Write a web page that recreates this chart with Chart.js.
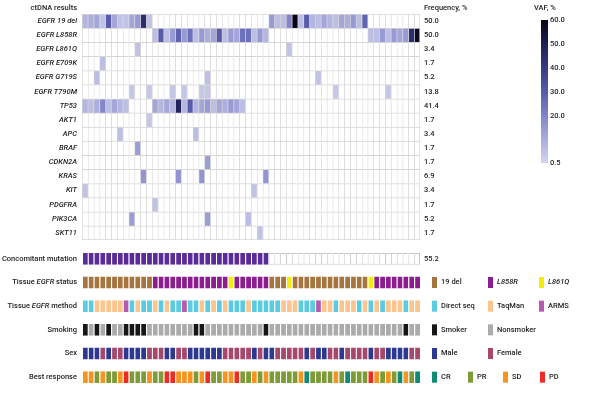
<!DOCTYPE html>
<html>
<head>
<meta charset="utf-8">
<script src="https://cdn.jsdelivr.net/npm/chart.js@4.4.1/dist/chart.umd.min.js"></script>
<style>
  body { margin: 0; background: #fff; }
  #wrap { position: relative; width: 600px; height: 393px; overflow: hidden; }
  canvas { position: absolute; left: 0; }
</style>
</head>
<body>
<div id="wrap">
  <canvas id="ctdna" width="600" height="243" style="top:0"></canvas>
  <canvas id="clin" width="600" height="150" style="top:243px"></canvas>
</div>
<script>
// 58 patients, one column each
const patients = Array.from({ length: 58 }, (_, i) => 'P' + (i + 1));

const genes = ['EGFR 19 del', 'EGFR L858R', 'EGFR L861Q', 'EGFR E709K', 'EGFR G719S', 'EGFR T790M',
  'TP53', 'AKT1', 'APC', 'BRAF', 'CDKN2A', 'KRAS', 'KIT', 'PDGFRA', 'PIK3CA', 'SKT11'];
const frequency = ['50.0', '50.0', '3.4', '1.7', '5.2', '13.8', '41.4', '1.7', '3.4', '1.7', '1.7', '6.9', '3.4', '1.7', '5.2', '1.7'];

// ctDNA VAF (%) per patient, 0 = not detected
const egfr19del = [
  8, 10, 12, 5, 30, 12, 5, 5, 12, 15,
  45, 5, 0, 0, 0, 0, 0, 0, 0, 0,
  0, 0, 0, 0, 0, 0, 0, 0, 0, 0,
  0, 0, 15, 6, 6, 20, 60, 6, 30, 8,
  6, 12, 8, 6, 12, 10, 15, 6, 28, 0,
  0, 0, 0, 0, 0, 0, 0, 0];
const egfrL858R = [
  0, 0, 0, 0, 0, 0, 0, 0, 0, 0,
  0, 0, 6, 30, 6, 15, 28, 15, 25, 6,
  15, 10, 12, 30, 6, 15, 12, 25, 25, 6,
  15, 8, 0, 0, 0, 0, 0, 0, 0, 0,
  0, 0, 0, 0, 0, 0, 0, 0, 0, 6,
  6, 15, 6, 15, 12, 15, 45, 58];
const egfrL861Q = [
  0, 0, 0, 0, 0, 0, 0, 0, 0, 5,
  0, 0, 0, 0, 0, 0, 0, 0, 0, 0,
  0, 0, 0, 0, 0, 0, 0, 0, 0, 0,
  0, 0, 0, 0, 0, 5, 0, 0, 0, 0,
  0, 0, 0, 0, 0, 0, 0, 0, 0, 0,
  0, 0, 0, 0, 0, 0, 0, 0];
const egfrE709K = [
  0, 0, 0, 6, 0, 0, 0, 0, 0, 0,
  0, 0, 0, 0, 0, 0, 0, 0, 0, 0,
  0, 0, 0, 0, 0, 0, 0, 0, 0, 0,
  0, 0, 0, 0, 0, 0, 0, 0, 0, 0,
  0, 0, 0, 0, 0, 0, 0, 0, 0, 0,
  0, 0, 0, 0, 0, 0, 0, 0];
const egfrG719S = [
  0, 0, 6, 0, 0, 0, 0, 0, 0, 0,
  0, 0, 0, 0, 0, 0, 0, 0, 0, 0,
  0, 6, 0, 0, 0, 0, 0, 0, 0, 0,
  0, 0, 0, 0, 0, 0, 0, 0, 0, 0,
  5, 0, 0, 0, 0, 0, 0, 0, 0, 0,
  0, 0, 0, 0, 0, 0, 0, 0];
const egfrT790M = [
  0, 0, 0, 0, 0, 0, 0, 0, 4, 0,
  0, 4, 0, 0, 0, 4, 0, 4, 0, 0,
  4, 4, 0, 0, 0, 0, 0, 0, 0, 0,
  0, 0, 0, 0, 0, 0, 0, 0, 0, 0,
  0, 0, 0, 4, 0, 0, 0, 0, 0, 0,
  0, 0, 4, 0, 0, 0, 0, 0];
const tp53 = [
  8, 6, 10, 20, 6, 12, 8, 6, 0, 0,
  0, 0, 12, 8, 12, 8, 48, 8, 30, 8,
  12, 15, 6, 12, 10, 15, 12, 6, 0, 0,
  0, 0, 0, 0, 0, 0, 0, 0, 0, 0,
  0, 0, 0, 0, 0, 0, 0, 0, 0, 0,
  0, 0, 0, 0, 0, 0, 0, 0];
const akt1 = [
  0, 0, 0, 0, 0, 0, 0, 0, 0, 0,
  0, 4, 0, 0, 0, 0, 0, 0, 0, 0,
  0, 0, 0, 0, 0, 0, 0, 0, 0, 0,
  0, 0, 0, 0, 0, 0, 0, 0, 0, 0,
  0, 0, 0, 0, 0, 0, 0, 0, 0, 0,
  0, 0, 0, 0, 0, 0, 0, 0];
const apc = [
  0, 0, 0, 0, 0, 0, 6, 0, 0, 0,
  0, 0, 0, 0, 0, 0, 0, 0, 0, 6,
  0, 0, 0, 0, 0, 0, 0, 0, 0, 0,
  0, 0, 0, 0, 0, 0, 0, 0, 0, 0,
  0, 0, 0, 0, 0, 0, 0, 0, 0, 0,
  0, 0, 0, 0, 0, 0, 0, 0];
const braf = [
  0, 0, 0, 0, 0, 0, 0, 0, 0, 14,
  0, 0, 0, 0, 0, 0, 0, 0, 0, 0,
  0, 0, 0, 0, 0, 0, 0, 0, 0, 0,
  0, 0, 0, 0, 0, 0, 0, 0, 0, 0,
  0, 0, 0, 0, 0, 0, 0, 0, 0, 0,
  0, 0, 0, 0, 0, 0, 0, 0];
const cdkn2a = [
  0, 0, 0, 0, 0, 0, 0, 0, 0, 0,
  0, 0, 0, 0, 0, 0, 0, 0, 0, 0,
  0, 14, 0, 0, 0, 0, 0, 0, 0, 0,
  0, 0, 0, 0, 0, 0, 0, 0, 0, 0,
  0, 0, 0, 0, 0, 0, 0, 0, 0, 0,
  0, 0, 0, 0, 0, 0, 0, 0];
const kras = [
  0, 0, 0, 0, 0, 0, 0, 0, 0, 0,
  16, 0, 0, 0, 0, 0, 16, 0, 0, 0,
  16, 0, 0, 0, 0, 0, 0, 0, 0, 0,
  0, 16, 0, 0, 0, 0, 0, 0, 0, 0,
  0, 0, 0, 0, 0, 0, 0, 0, 0, 0,
  0, 0, 0, 0, 0, 0, 0, 0];
const kit = [
  5, 0, 0, 0, 0, 0, 0, 0, 0, 0,
  0, 0, 0, 0, 0, 0, 0, 0, 0, 0,
  0, 0, 0, 0, 0, 0, 0, 0, 0, 5,
  0, 0, 0, 0, 0, 0, 0, 0, 0, 0,
  0, 0, 0, 0, 0, 0, 0, 0, 0, 0,
  0, 0, 0, 0, 0, 0, 0, 0];
const pdgfra = [
  0, 0, 0, 0, 0, 0, 0, 0, 0, 0,
  0, 0, 5, 0, 0, 0, 0, 0, 0, 0,
  0, 0, 0, 0, 0, 0, 0, 0, 0, 0,
  0, 0, 0, 0, 0, 0, 0, 0, 0, 0,
  0, 0, 0, 0, 0, 0, 0, 0, 0, 0,
  0, 0, 0, 0, 0, 0, 0, 0];
const pik3ca = [
  0, 0, 0, 0, 0, 0, 0, 0, 14, 0,
  0, 0, 0, 0, 0, 0, 0, 0, 0, 0,
  0, 14, 0, 0, 0, 0, 0, 0, 6, 0,
  0, 0, 0, 0, 0, 0, 0, 0, 0, 0,
  0, 0, 0, 0, 0, 0, 0, 0, 0, 0,
  0, 0, 0, 0, 0, 0, 0, 0];
const skt11 = [
  0, 0, 0, 0, 0, 0, 0, 0, 0, 0,
  0, 0, 0, 0, 0, 0, 0, 0, 0, 0,
  0, 0, 0, 0, 0, 0, 0, 0, 0, 0,
  5, 0, 0, 0, 0, 0, 0, 0, 0, 0,
  0, 0, 0, 0, 0, 0, 0, 0, 0, 0,
  0, 0, 0, 0, 0, 0, 0, 0];

const vafRows = [egfr19del, egfrL858R, egfrL861Q, egfrE709K, egfrG719S, egfrT790M,
  tp53, akt1, apc, braf, cdkn2a, kras, kit, pdgfra, pik3ca, skt11];

// clinical tracks, one letter per patient
const concomitant  = 'YYYYYYYYYYYYYYYYYYYYYYYYYYYYYYYYNNNNNNNNNNNNNNNNNNNNNNNNNN'.split('');
const tissueStatus = 'DDDDDDDDDDDDLLLLLLLLLLLLLQLLLLLLDDDQDDDDDDDDDDDDDQLLLLLLLL'.split('');
const tissueMethod = 'SSTTTTTASTSSTSTSSASSTSTSTSSSTSSSSSTTTSSSATTSTTTSTSTSTTTSTT'.split('');
const smoking      = 'YNYNYNNYYYYNNNNNNNNYYNNNNNNNNNNYNNNNNNNNNNNNNNNNNNNNNNNYNN'.split('');
const sex          = 'MMMFMFFMMMMFFFMMFFMMMMMMFFFFFMFMMFFFFFMFMMFFMFFFFMFFMMMMFF'.split('');
const response     = 'SSPSPPSDPPPSPPDDSSSPSDPPSSDPPSPSPPPPPSCPPPPSPCPPPDSPSPCSPC'.split('');
const concomitantPct = '55.2';

const FONT = 'Roboto, "Liberation Sans", Arial, sans-serif';
const FS = 7.5;
const FW = 500;
const TXT = '#1e1e1e';

const vafStops = [
  [0.5, [212, 213, 237]], [10, [172, 174, 221]], [20, [130, 133, 202]],
  [30, [88, 91, 172]], [40, [56, 58, 132]], [50, [30, 31, 86]], [60, [6, 6, 20]]
];
function vafColor(v) {
  for (let i = 1; i < vafStops.length; i++) {
    const [v1, c1] = vafStops[i];
    const [v0, c0] = vafStops[i - 1];
    if (v <= v1) {
      const t = Math.max(0, (v - v0) / (v1 - v0));
      const c = c0.map((a, k) => Math.round(a + (c1[k] - a) * t));
      return `rgb(${c[0]},${c[1]},${c[2]})`;
    }
  }
  return 'rgb(6,6,20)';
}

function drawRich(ctx, parts, x, y, align, size) {
  const fontOf = p => `${p[1] ? 'italic ' : ''}${FW} ${size}px ${FONT}`;
  let total = 0;
  parts.forEach(p => { ctx.font = fontOf(p); total += ctx.measureText(p[0]).width; });
  let cx = align === 'right' ? x - total : x;
  ctx.textAlign = 'left';
  parts.forEach(p => {
    ctx.font = fontOf(p);
    ctx.fillText(p[0], cx, y);
    cx += ctx.measureText(p[0]).width;
  });
}

// keep vertical axes from adding label overhang to the plot padding
const fixedWidth = w => s => { s.width = w; s.paddingTop = 0; s.paddingBottom = 0; };

// headers and the VAF colour bar
const ctdnaExtras = {
  id: 'ctdnaExtras',
  afterDraw(chart) {
    const ctx = chart.ctx;
    ctx.save();
    ctx.fillStyle = TXT;
    ctx.textBaseline = 'middle';
    drawRich(ctx, [['ctDNA results']], 77, 8, 'right', FS);
    drawRich(ctx, [['Frequency, %']], 424, 8, 'left', FS);
    drawRich(ctx, [['VAF, %']], 534, 8, 'left', FS);

    const top = 20, bot = 163, x = 541, w = 7;
    const yOf = v => bot - (v - 0.5) / 59.5 * (bot - top);
    const g = ctx.createLinearGradient(0, bot, 0, top);
    vafStops.forEach(([v]) => g.addColorStop((v - 0.5) / 59.5, vafColor(v)));
    ctx.fillStyle = g;
    ctx.fillRect(x, top, w, bot - top);
    ctx.fillStyle = TXT;
    [60, 50, 40, 30, 20, 0.5].forEach(v => drawRich(ctx, [[v.toFixed(1)]], x + w + 2, yOf(v), 'left', FS));
    ctx.restore();
  }
};

const lastCol = patients.length - 1;

new Chart(document.getElementById('ctdna'), {
  type: 'bar',
  data: {
    labels: genes,
    datasets: patients.map((p, j) => ({
      label: p,
      data: genes.map(() => 1),
      backgroundColor: vafRows.map(r => r[j] ? vafColor(r[j]) : '#ffffff'),
      borderColor: '#d5d5d5',
      borderWidth: ctx => ({ top: 1, left: 1, right: j === lastCol ? 1 : 0, bottom: ctx.dataIndex === genes.length - 1 ? 1 : 0 }),
      borderSkipped: false,
      barPercentage: 1,
      categoryPercentage: 1
    }))
  },
  options: {
    indexAxis: 'y',
    responsive: false,
    animation: false,
    layout: { padding: { top: 14, bottom: 3, left: 0, right: 0 } },
    plugins: { legend: { display: false }, tooltip: { enabled: false } },
    scales: {
      x: { stacked: true, min: 0, max: patients.length, display: false },
      y: {
        stacked: true,
        grid: { display: false, drawTicks: false },
        border: { display: false },
        ticks: { color: TXT, padding: 5, font: { family: FONT, size: FS, style: 'italic', weight: FW } },
        afterFit: fixedWidth(82)
      },
      freq: {
        type: 'category',
        labels: frequency,
        position: 'right',
        offset: true,
        grid: { display: false, drawTicks: false },
        border: { display: false },
        ticks: { color: TXT, padding: 4, font: { family: FONT, size: FS, weight: FW } },
        afterFit: fixedWidth(180)
      }
    }
  },
  plugins: [ctdnaExtras]
});

// clinical tracks
const tracks = [
  { title: [['Concomitant mutation']], values: concomitant,
    key: { Y: { label: 'Mutation', color: '#5a2c98' }, N: { label: 'None', color: '#ffffff' } }, legend: false },
  { title: [['Tissue '], ['EGFR', true], [' status']], values: tissueStatus,
    key: { D: { label: '19 del', color: '#a5743f' }, L: { label: 'L858R', color: '#8c1d8f', italic: true },
           Q: { label: 'L861Q', color: '#f3ec0c', italic: true } } },
  { title: [['Tissue '], ['EGFR', true], [' method']], values: tissueMethod,
    key: { S: { label: 'Direct seq', color: '#5bcbe1' }, T: { label: 'TaqMan', color: '#fcc58f' },
           A: { label: 'ARMS', color: '#b45aaf' } } },
  { title: [['Smoking']], values: smoking,
    key: { Y: { label: 'Smoker', color: '#161616' }, N: { label: 'Nonsmoker', color: '#ababab' } } },
  { title: [['Sex']], values: sex,
    key: { M: { label: 'Male', color: '#2d3990' }, F: { label: 'Female', color: '#a6476c' } } },
  { title: [['Best response']], values: response,
    key: { C: { label: 'CR', color: '#0f8a73' }, P: { label: 'PR', color: '#7d9b37' },
           S: { label: 'SD', color: '#f7931e' }, D: { label: 'PD', color: '#ef2b25' } } }
];
const legendX = [[], [432, 488, 539], [432, 488, 539], [432, 488], [432, 488], [432, 468, 503, 540]];

const clinExtras = {
  id: 'clinExtras',
  afterDraw(chart) {
    const { ctx, chartArea, scales: { y } } = chart;
    ctx.save();
    ctx.textBaseline = 'middle';
    tracks.forEach((t, i) => {
      const yy = y.getPixelForValue(i);
      ctx.fillStyle = TXT;
      drawRich(ctx, t.title, chartArea.left - 5, yy, 'right', FS);
      if (t.legend === false) return;
      Object.values(t.key).forEach((k, n) => {
        const x = legendX[i][n];
        ctx.fillStyle = k.color;
        ctx.fillRect(x, yy - 5.5, 5, 11);
        ctx.fillStyle = TXT;
        drawRich(ctx, [[k.label, k.italic]], x + 9, yy, 'left', FS);
      });
    });
    ctx.restore();
  }
};

new Chart(document.getElementById('clin'), {
  type: 'bar',
  data: {
    labels: tracks.map(t => t.title.map(p => p[0]).join('')),
    datasets: patients.map((p, j) => ({
      label: p,
      data: tracks.map(() => 1),
      backgroundColor: tracks.map(t => t.key[t.values[j]].color),
      borderColor: ctx => (ctx.dataIndex === 0 && concomitant[j] === 'N') ? '#c8c8c8' : 'rgba(255,255,255,0.55)',
      borderWidth: ctx => (ctx.dataIndex === 0 && concomitant[j] === 'N')
        ? { top: 1, bottom: 1, left: 1, right: j === lastCol ? 1 : 0 }
        : { top: 0, bottom: 0, left: 1, right: 0 },
      borderSkipped: false,
      barPercentage: 0.5,
      categoryPercentage: 1
    }))
  },
  options: {
    indexAxis: 'y',
    responsive: false,
    animation: false,
    layout: { padding: { top: 4, bottom: 4, left: 0, right: 0 } },
    plugins: { legend: { display: false }, tooltip: { enabled: false } },
    scales: {
      x: { stacked: true, min: 0, max: patients.length, display: false },
      y: {
        stacked: true,
        grid: { display: false, drawTicks: false },
        border: { display: false },
        ticks: { display: false },
        afterFit: fixedWidth(82)
      },
      pct: {
        type: 'category',
        labels: [concomitantPct, '', '', '', '', ''],
        position: 'right',
        offset: true,
        grid: { display: false, drawTicks: false },
        border: { display: false },
        ticks: { color: TXT, padding: 4, font: { family: FONT, size: FS, weight: FW } },
        afterFit: fixedWidth(180)
      }
    }
  },
  plugins: [clinExtras]
});
</script>
</body>
</html>
